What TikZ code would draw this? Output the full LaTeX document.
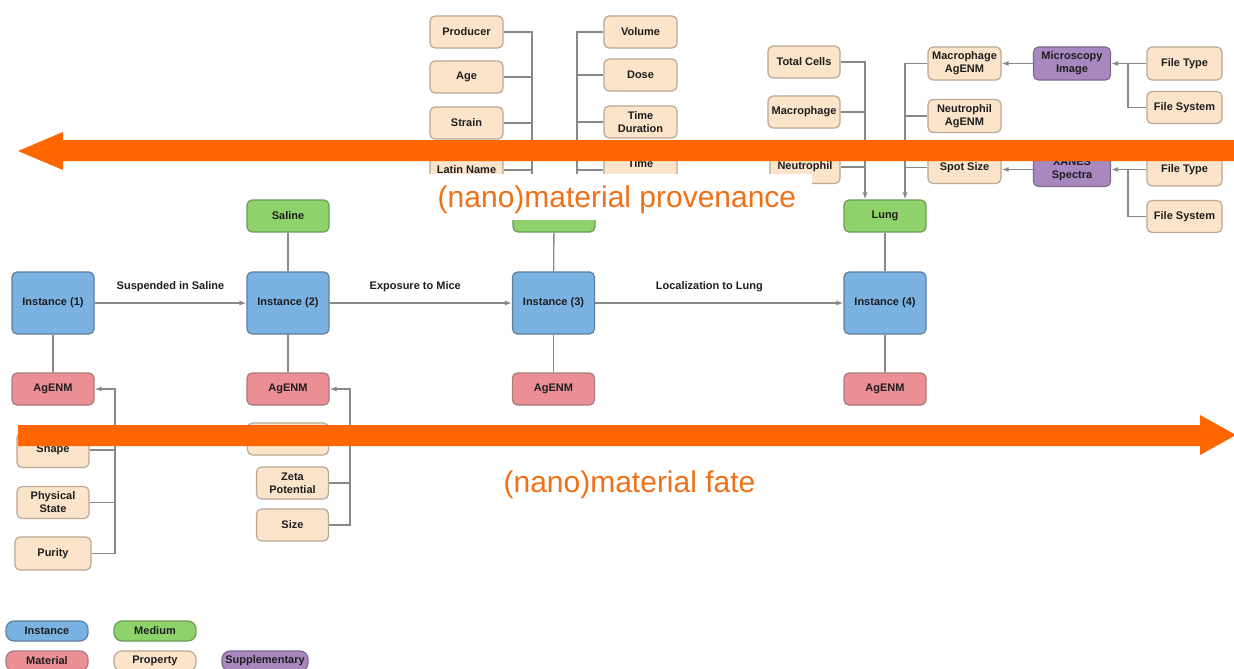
\documentclass[tikz,border=0pt]{standalone}
\usepackage{fontspec}
\setmainfont{Liberation Sans}
\usetikzlibrary{arrows.meta}
\definecolor{instfill}{HTML}{7AB2E2}
\definecolor{instdraw}{HTML}{5F7D9C}
\definecolor{medfill}{HTML}{8ED26C}
\definecolor{meddraw}{HTML}{6E9A58}
\definecolor{matfill}{HTML}{EC8F95}
\definecolor{matdraw}{HTML}{A87A7C}
\definecolor{propfill}{HTML}{FCE4CB}
\definecolor{propdraw}{HTML}{B9A893}
\definecolor{supfill}{HTML}{A888BF}
\definecolor{supdraw}{HTML}{7D6890}
\definecolor{conncol}{HTML}{888888}
\definecolor{orng}{HTML}{FF6600}
\definecolor{orngtext}{HTML}{F07018}
\definecolor{txt}{HTML}{1E1E1E}
\begin{document}
\begin{tikzpicture}[x=1pt,y=-1pt,
  box/.style={rectangle, rounded corners=5pt, line width=1.2pt, font=\fontsize{11}{13}\selectfont\bfseries, text=txt, align=center, inner sep=1pt},
  inst/.style={box, fill=instfill, draw=instdraw, minimum width=82pt, minimum height=62pt},
  med/.style={box, fill=medfill, draw=meddraw, minimum width=82pt, minimum height=32pt},
  mat/.style={box, fill=matfill, draw=matdraw, minimum width=82pt, minimum height=32pt},
  prop/.style={box, fill=propfill, draw=propdraw, minimum width=73pt, minimum height=32pt},
  sup/.style={box, fill=supfill, draw=supdraw, minimum width=77pt, minimum height=33pt},
  leg/.style={rounded corners=8pt, minimum width=82pt, minimum height=20pt},
  conn/.style={draw=conncol, line width=1.3pt},
  arr/.style={-{Latex[length=7pt,width=5pt]}},
  elabel/.style={font=\fontsize{11}{13}\selectfont\bfseries, text=txt, inner sep=1pt},
  bigtext/.style={font=\fontsize{30}{32}\selectfont, text=orngtext, inner sep=0pt, anchor=base}
]
\clip (0,0) rectangle (1234,669);
\fill[white] (0,0) rectangle (1234,669);

% ---------- main row ----------
\node[inst] (i1) at (53,303) {Instance (1)};
\node[inst] (i2) at (288,303) {Instance (2)};
\node[inst] (i3) at (553.5,303) {Instance (3)};
\node[inst] (i4) at (885,303) {Instance (4)};
\node[mat] (m1) at (53,389) {AgENM};
\node[mat] (m2) at (288,389) {AgENM};
\node[mat] (m3) at (553.5,389) {AgENM};
\node[mat] (m4) at (885,389) {AgENM};
\node[med] (saline) at (288,216) {Saline};
\node[med] (med3) at (554,216) {};
\node[med] (lung) at (885,216) {Lung};

\draw[conn,arr] (i1) -- node[elabel,above=10pt]{Suspended in Saline} (i2);
\draw[conn,arr] (i2) -- node[elabel,above=10pt,pos=0.47]{Exposure to Mice} (i3);
\draw[conn,arr] (i3) -- node[elabel,above=10pt,pos=0.46]{Localization to Lung} (i4);
\draw[conn] (saline) -- (i2);
\draw[conn] (med3) -- (i3);
\draw[conn] (lung) -- (i4);
\draw[conn] (i1) -- (m1);
\draw[conn] (i2) -- (m2);
\draw[conn] (i3) -- (m3);
\draw[conn] (i4) -- (m4);

% ---------- properties of AgENM (1) ----------
\node[prop, minimum width=72pt, minimum height=35pt] (shape) at (53,450) {Shape};
\node[prop, minimum width=72pt] (physstate) at (53,502.5) {Physical\\State};
\node[prop, minimum width=76pt, minimum height=33pt] (purity) at (53,553.5) {Purity};
\coordinate (vA) at (115,0);
\draw[conn] (shape.east) -- (shape.east -| vA);
\draw[conn] (physstate.east) -- (physstate.east -| vA);
\draw[conn,arr] (purity.east) -| (vA |- m1.east) -- (m1.east);

% ---------- properties of AgENM (2) ----------
\node[prop, minimum width=81pt] (hidp) at (288,439) {};
\node[prop, minimum width=72pt] (zeta) at (292.5,483) {Zeta\\Potential};
\node[prop, minimum width=72pt] (size) at (292.5,525) {Size};
\coordinate (vB) at (350,0);
\draw[conn] (hidp.east) -- (hidp.east -| vB);
\draw[conn] (zeta.east) -- (zeta.east -| vB);
\draw[conn,arr] (size.east) -| (vB |- m2.east) -- (m2.east);

% ---------- properties of medium (3) ----------
\node[prop] (producer) at (466.5,32) {Producer};
\node[prop] (age) at (466.5,77) {Age};
\node[prop] (strain) at (466.5,123) {Strain};
\node[prop] (latin) at (466.5,170) {Latin Name};
\coordinate (vC) at (532,0);
\draw[conn] (age.east) -- (age.east -| vC);
\draw[conn] (strain.east) -- (strain.east -| vC);
\draw[conn] (latin.east) -- (latin.east -| vC);
\draw[conn,arr] (producer.east) -| (vC |- med3.north);

\node[prop] (volume) at (640.5,32) {Volume};
\node[prop] (dose) at (640.5,75) {Dose};
\node[prop] (timedur) at (640.5,122) {Time\\Duration};
\node[prop] (timeint) at (640.5,170) {Time\\\phantom{Interval}};
\coordinate (vD) at (577,0);
\draw[conn] (dose.west) -- (dose.west -| vD);
\draw[conn] (timedur.west) -- (timedur.west -| vD);
\draw[conn] (timeint.west) -- (timeint.west -| vD);
\draw[conn,arr] (volume.west) -| (vD |- med3.north);

% ---------- properties of Lung ----------
\node[prop, minimum width=72pt] (totalcells) at (804,62) {Total Cells};
\node[prop, minimum width=72pt] (macro) at (804,112) {Macrophage};
\node[prop, minimum width=70pt, minimum height=33pt] (neutro) at (805,167) {Neutrophil};
\coordinate (vE) at (865,0);
\draw[conn] (macro.east) -- (macro.east -| vE);
\draw[conn] (neutro.east) -- (neutro.east -| vE);
\draw[conn,arr] (totalcells.east) -| (vE |- lung.north);

\node[prop, minimum height=33pt] (macag) at (964.5,63.5) {Macrophage\\AgENM};
\node[prop, minimum height=33pt] (neuag) at (964.5,116) {Neutrophil\\AgENM};
\node[prop] (spot) at (964.5,167.5) {Spot Size};
\coordinate (vF) at (905,0);
\draw[conn] (neuag.west) -- (neuag.west -| vF);
\draw[conn] (spot.west) -- (spot.west -| vF);
\draw[conn,arr] (macag.west) -| (vF |- lung.north);

% ---------- supplementary ----------
\node[sup] (micro) at (1072,63.5) {Microscopy\\Image};
\node[sup, minimum height=34pt] (xanes) at (1072,169.5) {XANES\\Spectra};
\draw[conn,arr] (micro.west) -- (macag.east);
\draw[conn,arr] (xanes.west) -- (spot.east |- xanes.west);

\node[prop, minimum width=75pt, minimum height=33pt] (ft1) at (1184.5,63.5) {File Type};
\node[prop, minimum width=75pt] (fs1) at (1184.5,107.5) {File System};
\node[prop, minimum width=75pt, minimum height=33pt] (ft2) at (1184.5,169.5) {File Type};
\node[prop, minimum width=75pt] (fs2) at (1184.5,216.5) {File System};
\coordinate (vG) at (1128,0);
\draw[conn,arr] (ft1.west) -- (micro.east);
\draw[conn] (fs1.west) -| (vG |- ft1.west);
\draw[conn,arr] (ft2.west) -- (xanes.east);
\draw[conn] (fs2.west) -| (vG |- ft2.west);

% ---------- legend ----------
\node[box, leg, fill=instfill, draw=instdraw] (lgi) at (47,631) {Instance};
\node[box, leg, fill=medfill, draw=meddraw] (lgm) at (155,631) {Medium};
\node[box, leg, fill=matfill, draw=matdraw] (lgt) at (47,661) {Material};
\node[box, leg, fill=propfill, draw=propdraw] (lgp) at (155,661) {Property};
\node[box, leg, fill=supfill, draw=supdraw, minimum width=86pt] (lgs) at (265,661) {Supplementary};

% ---------- overlay: white patch, arrows, captions ----------
\fill[white] (425,174) rectangle (812,220);
\fill[orng] (1236,140) -- (63,140) -- (63,132) -- (18,151) -- (63,170) -- (63,161) -- (1236,161) -- cycle;
\fill[orng] (18,425) -- (1200,425) -- (1200,415) -- (1236,435) -- (1200,455) -- (1200,446) -- (18,446) -- cycle;
\node[bigtext] (prov) at (617,207) {(nano)material provenance};
\node[bigtext] (fate) at (629.5,492) {(nano)material fate};
\end{tikzpicture}
\end{document}
